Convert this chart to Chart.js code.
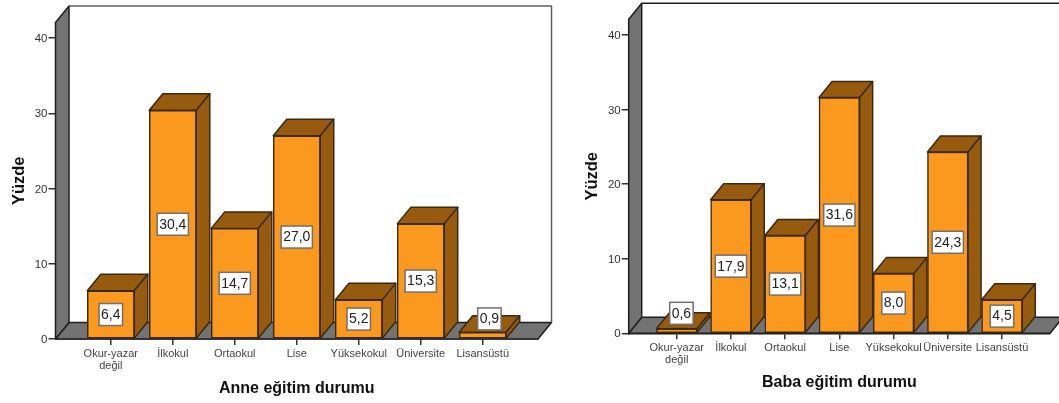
<!DOCTYPE html>
<html lang="tr">
<head>
    <meta charset="UTF-8">
    <title>Anne ve baba eğitim durumu</title>
    <script src="https://cdn.jsdelivr.net/npm/chart.js"></script>
    <style>
        body { margin: 0; background: #fff; width: 1059px; height: 403px; overflow: hidden; position: relative; }
        canvas { position: absolute; top: 0; }
        #anneChart { left: 0; }
        #babaChart { left: 570px; }
    </style>
</head>
<body>
    <canvas id="anneChart" width="570" height="403"></canvas>
    <canvas id="babaChart" width="489" height="403"></canvas>

    <script>
        // Category names and percentages
        const categories = [['Okur-yazar', 'değil'], 'İlkokul', 'Ortaokul', 'Lise', 'Yüksekokul', 'Üniversite', 'Lisansüstü'];
        const anneValues = [6.4, 30.4, 14.7, 27.0, 5.2, 15.3, 0.9];
        const babaValues = [0.6, 17.9, 13.1, 31.6, 8.0, 24.3, 4.5];
        const yTicks = [0, 10, 20, 30, 40];

        Chart.defaults.font.family = "'Liberation Sans', Arial, sans-serif";
        Chart.defaults.animation = false;

        const FRONT = '#fb991e', SIDE = '#975b0f', EDGE = '#3b2a12', WALL = '#737373', LINE = '#1e1e1e';

        function polygon(ctx, pts, fill, stroke) {
            ctx.beginPath();
            pts.forEach((p, i) => i ? ctx.lineTo(p[0], p[1]) : ctx.moveTo(p[0], p[1]));
            ctx.closePath();
            if (fill) { ctx.fillStyle = fill; ctx.fill(); }
            if (stroke) { ctx.strokeStyle = stroke; ctx.stroke(); }
        }

        // Back wall, side wall, floor and the depth faces of the bars
        const box3d = {
            id: 'box3d',
            beforeDatasetsDraw(chart, args, o) {
                const ctx = chart.ctx, a = chart.chartArea;
                const dx = o.dx, dy = o.dy;
                ctx.save();
                ctx.lineWidth = 1.5;
                ctx.lineJoin = 'round';
                polygon(ctx, [[a.left + dx, a.top - dy], [a.right + dx, a.top - dy], [a.right + dx, a.bottom - dy], [a.left + dx, a.bottom - dy]], '#fff');
                polygon(ctx, [[a.left, a.bottom], [a.right, a.bottom], [a.right + dx, a.bottom - dy], [a.left + dx, a.bottom - dy]], WALL, LINE);
                polygon(ctx, [[a.left, a.top], [a.left + dx, a.top - dy], [a.left + dx, a.bottom - dy], [a.left, a.bottom]], WALL, LINE);
                ctx.strokeStyle = o.rim;
                ctx.beginPath();
                ctx.moveTo(a.left + dx, a.top - dy);
                ctx.lineTo(a.right + dx, a.top - dy);
                ctx.lineTo(a.right + dx, a.bottom - dy);
                ctx.stroke();

                chart.getDatasetMeta(0).data.forEach(bar => {
                    const l = bar.x - bar.width / 2, r = bar.x + bar.width / 2;
                    polygon(ctx, [[l, bar.y], [l + dx, bar.y - dy], [r + dx, bar.y - dy], [r, bar.y]], SIDE, EDGE);
                    polygon(ctx, [[r, bar.y], [r + dx, bar.y - dy], [r + dx, bar.base - dy], [r, bar.base]], SIDE, EDGE);
                });
                ctx.restore();
            },
            // White value boxes in the middle of each bar, or above it when the bar is too short
            afterDatasetsDraw(chart, args, o) {
                const ctx = chart.ctx;
                const values = chart.data.datasets[0].data;
                ctx.save();
                ctx.font = "14px 'Liberation Sans', Arial, sans-serif";
                ctx.textAlign = 'center';
                ctx.textBaseline = 'middle';
                chart.getDatasetMeta(0).data.forEach((bar, i) => {
                    const text = values[i].y.toFixed(1).replace('.', ',');
                    const w = ctx.measureText(text).width + 4, h = 22;
                    let cx = bar.x, cy = (bar.y + bar.base) / 2;
                    if (bar.base - bar.y < h) {
                        cx += o.liftX;
                        cy = bar.y - o.liftY;
                    }
                    ctx.fillStyle = '#fff';
                    ctx.strokeStyle = '#707070';
                    ctx.lineWidth = 1.5;
                    ctx.fillRect(cx - w / 2, cy - h / 2, w, h);
                    ctx.strokeRect(cx - w / 2, cy - h / 2, w, h);
                    ctx.fillStyle = '#222';
                    ctx.fillText(text, cx, cy + 0.5);
                });
                ctx.restore();
            }
        };

        function drawPanel(id, xTitle, values, p) {
            new Chart(document.getElementById(id), {
                type: 'bar',
                data: {
                    datasets: [{
                        data: values.map((v, i) => ({ x: i, y: v })),
                        backgroundColor: FRONT,
                        borderColor: EDGE,
                        borderWidth: 1.5,
                        borderSkipped: false,
                        barThickness: p.barWidth,
                        clip: false
                    }]
                },
                options: {
                    responsive: false,
                    layout: { padding: { top: p.top, right: p.right, left: 0, bottom: 0 } },
                    plugins: {
                        legend: { display: false },
                        tooltip: { enabled: false },
                        box3d: { dx: p.dx, dy: p.dy, rim: p.rim, liftX: p.liftX, liftY: p.liftY }
                    },
                    scales: {
                        x: {
                            type: 'linear',
                            offset: false,
                            bounds: 'data',
                            min: -p.xPad,
                            max: categories.length - 1 + p.xPad,
                            afterBuildTicks: s => { s.ticks = categories.map((c, i) => ({ value: i })); },
                            afterFit: s => { s.height = p.xHeight; },
                            border: { color: LINE, width: 1.5 },
                            grid: { drawOnChartArea: false, offset: false, color: '#333', lineWidth: 1.5, tickLength: 6 },
                            ticks: {
                                autoSkip: false,
                                maxRotation: 0,
                                padding: 3,
                                color: '#444',
                                font: { size: 11, lineHeight: 1.1 },
                                callback: v => categories[v]
                            },
                            title: {
                                display: true,
                                text: xTitle,
                                color: '#111',
                                font: { size: 16, weight: 'bold' },
                                padding: { top: 0, bottom: p.xTitlePad }
                            }
                        },
                        y: {
                            min: 0,
                            max: p.yMax,
                            afterBuildTicks: s => { s.ticks = yTicks.map(v => ({ value: v })); },
                            afterFit: s => { s.width = p.yWidth; },
                            border: { color: LINE, width: 1.5 },
                            grid: { drawOnChartArea: false, color: '#333', lineWidth: 1.5, tickLength: 7 },
                            ticks: { padding: 1, labelOffset: 1, color: '#333', font: { size: 11.5 } },
                            title: {
                                display: true,
                                text: 'Yüzde',
                                color: '#111',
                                font: { size: 16.5, weight: 'bold' },
                                padding: { top: p.yTitlePad, bottom: 0 }
                            }
                        }
                    }
                },
                plugins: [box3d]
            });
        }

        drawPanel('anneChart', 'Anne eğitim durumu', anneValues, {
            top: 22.5, right: 32, xHeight: 64, yWidth: 55.5, yMax: 42.06,
            xPad: 0.892, barWidth: 47, dx: 13.5, dy: 16.5,
            xTitlePad: 4.4, yTitlePad: 9.5, rim: '#5f5f5f', liftX: 6.7, liftY: 13.3
        });
        drawPanel('babaChart', 'Baba eğitim durumu', babaValues, {
            top: 19.3, right: 9, xHeight: 69.7, yWidth: 58.7, yMax: 42.09,
            xPad: 0.886, barWidth: 40.6, dx: 13, dy: 16,
            xTitlePad: 10.7, yTitlePad: 12.5, rim: LINE, liftX: 4.7, liftY: 15.5
        });
    </script>
</body>
</html>
